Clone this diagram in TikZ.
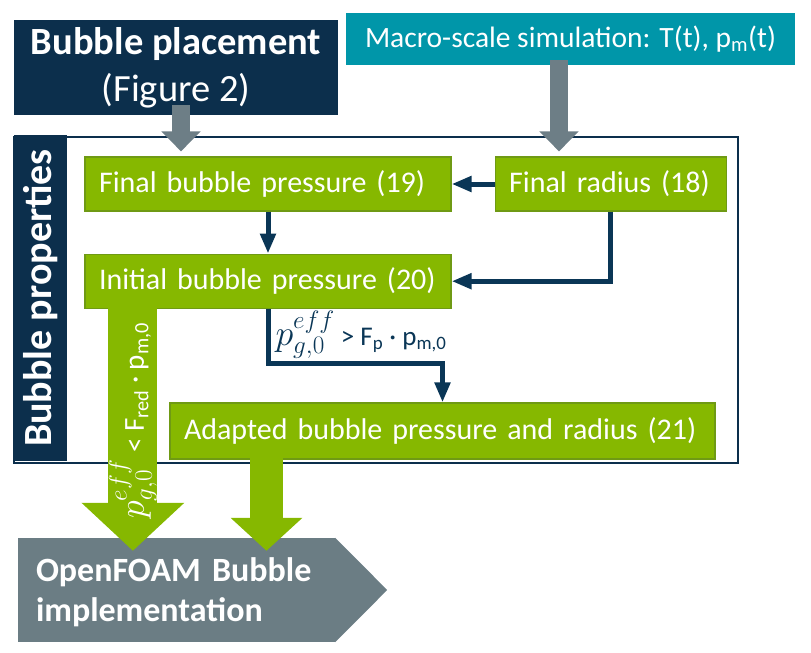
\RequirePackage{fix-cm}
\documentclass[tikz,border=0pt]{standalone}
\usepackage{amsmath}
\usepackage{fontspec}
\setmainfont{Carlito}
\usepackage{tikz}
\usetikzlibrary{positioning, arrows.meta, calc}
\definecolor{navy}{HTML}{0C2F4C}
\definecolor{macroteal}{HTML}{0096A9}
\definecolor{boxgreen}{HTML}{86B800}
\definecolor{greenline}{HTML}{6F9A14}
\definecolor{linknavy}{HTML}{0A3656}
\definecolor{bargray}{HTML}{6D7E86}
\definecolor{ofmgray}{HTML}{6B7D84}
\newcommand\peff{{\fontsize{36}{36}\selectfont$p^{eff}_{g,0}$}}

\begin{document}
\begin{tikzpicture}[x=1pt, y=-1pt,
        node distance = 42pt and 43pt,
        every node/.style = {text=white},
        box/.style = {draw=greenline, line width=1.2pt, fill=boxgreen, minimum height=54pt, inner ysep=0pt, inner xsep=14pt, align=left, font=\fontsize{30}{34}\selectfont},
        link/.style = {-{Triangle[length=20pt, width=15pt]}, line width=5pt, draw=linknavy},
        graybar/.style = {-{Triangle[length=20pt, width=38pt]}, line width=18pt, draw=bargray},
        greenbar/.style = {draw=boxgreen},
    ]
        \useasboundingbox (0,0) rectangle (811,653);
        \node[draw=navy, line width=1.5pt, minimum width=724pt, minimum height=326pt, inner sep=0pt] (props) at (376,300) {};
        \node[fill=navy, rotate=90, minimum width=326pt, minimum height=53pt, inner sep=0pt, font=\fontsize{40}{42}\selectfont\bfseries] (side) at (40.5,298) {Bubble properties};
        \node[fill=navy, minimum width=324pt, minimum height=95pt, align=center, font=\fontsize{38.5}{47}\selectfont] (place) at (176,67.5) {\textbf{Bubble placement}\\(Figure 2)};
        \node[fill=macroteal, minimum width=449pt, minimum height=52pt, font=\fontsize{29.5}{32}\selectfont] (macro) at (570.5,39) {Macro-scale simulation: T(t), p\textsubscript{m}(t)};
        \node[box, text width=338pt] (fbp) at (268,184) {Final bubble pressure (19)};
        \node[box, text width=203pt, right=of fbp] (frad) {Final radius (18)};
        \node[box, text width=338pt, below=of fbp] (ibp) {Initial bubble pressure (20)};
        \node[box, text width=517pt, minimum height=56pt] (adp) at (442.5,431) {Adapted bubble pressure and radius (21)};
        \node[fill=ofmgray, minimum width=317pt, minimum height=104pt, text width=281pt, align=left, inner xsep=18pt, font=\fontsize{34}{40}\selectfont\bfseries] (ofm) at (176.5,590) {\strut OpenFOAM Bubble\\implementation};
        \fill[ofmgray] (ofm.north east) -- ($(ofm.east)+(52,0)$) -- (ofm.south east) -- cycle;

        \coordinate (pl) at ([xshift=5pt, yshift=10pt]place.south);
        \coordinate (ms) at ([xshift=-11.5pt, yshift=5pt]macro.south);
        \draw[graybar] (pl) -- ($(pl |- fbp.north)+(0,-5)$);
        \draw[graybar] (ms) -- ($(ms |- frad.north)+(0,-5)$);

        \draw[link] (frad) -- (fbp);
        \draw[link] (fbp) -- (ibp);
        \draw[link] (frad.south) |- (ibp.east);
        \draw[link] (ibp.south) -- ++(0,55) node[anchor=south west, xshift=2pt, inner sep=3pt, text=linknavy, font=\fontsize{27}{32}\selectfont] {\peff{} > F\textsubscript{p} \textperiodcentered{} p\textsubscript{m,0}} -| (adp.north);

        \coordinate (gl) at ([xshift=48.5pt, yshift=8pt]ibp.south west);
        \coordinate (gr) at ([xshift=-176pt, yshift=7pt]adp.south);
        \draw[greenbar, line width=49pt, -{Triangle[length=48pt, width=100pt]}] (gl) -- ($(gl |- ofm.north)+(0,13)$) node[pos=0.48, rotate=90, font=\fontsize{29}{32}\selectfont] (redcond) {\peff{} < F\textsubscript{red} \textperiodcentered{} p\textsubscript{m,0}};
        \draw[greenbar, line width=33pt, -{Triangle[length=33pt, width=70pt]}] (gr) -- ($(gr |- ofm.north)+(0,13)$);
    \end{tikzpicture}
\end{document}
